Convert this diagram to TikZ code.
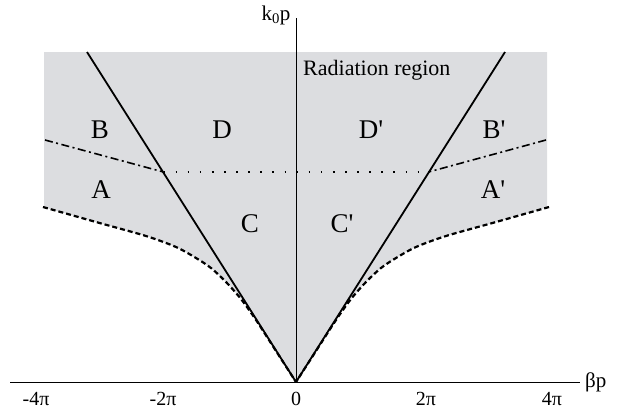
\documentclass[tikz,border=0pt]{standalone}
\usepackage{fontspec}
\newfontfamily\serif{Liberation Serif}
\definecolor{regiongray}{RGB}{220,221,224}
\tikzset{
  axisline/.style={line width=0.9pt, black},
  lightline/.style={line width=1.8pt, black},
  cutoff/.style={line width=2.2pt, black, dash pattern=on 5pt off 3pt},
  dotline/.style={line width=1.6pt, black, dash pattern=on 1.6pt off 10.5pt},
  dashdot/.style={line width=1.6pt, black, dash pattern=on 8pt off 3.5pt on 2pt off 3.5pt},
  biglab/.style={font=\serif\fontsize{27}{27}\selectfont, anchor=base, inner sep=0pt},
  ticklab/.style={font=\serif\fontsize{20}{20}\selectfont, anchor=base, inner sep=0pt},
  axlab/.style={font=\serif\fontsize{21}{21}\selectfont, inner sep=0pt},
}
\def\leftcurve{(43,207) (96,222) (146,236) (176,247) (196,258) (211,268) (226,282) (241,299) (256,320) (276,351) (296,382)}
\def\rightcurve{(549,207) (496,222) (446,236) (416,247) (396,258) (381,268) (366,282) (351,299) (336,320) (316,351) (296,382)}
\def\leftcurverev{(296,382) (276,351) (256,320) (241,299) (226,282) (211,268) (196,258) (176,247) (146,236) (96,222) (43,207)}
\begin{document}
\begin{tikzpicture}[x=1pt,y=-1pt]
\useasboundingbox (0,0) rectangle (620,413);
% key points
\coordinate (O) at (296,382);
\coordinate (LT) at (87,52);
\coordinate (RT) at (505,52);
\coordinate (LX) at (163.5,172);
\coordinate (RX) at (428.5,172);
\coordinate (LD) at (45,140);
\coordinate (RD) at (546,140);
\coordinate (XL) at (10,382);
\coordinate (XR) at (580,382);
\coordinate (YT) at (296,18);
% shaded region
\fill[regiongray] (44,52) -- (547,52) -- (547,207)
  -- plot[smooth,tension=0.5] coordinates {\rightcurve}
  -- plot[smooth,tension=0.5] coordinates {\leftcurverev}
  -- (44,207) -- cycle;
% axes
\draw[axisline] (XL) -- (XR);
\draw[axisline] (O) -- (YT);
% light lines
\draw[lightline] (O) -- (LT);
\draw[lightline] (O) -- (RT);
% cutoff curves
\draw[cutoff] plot[smooth,tension=0.5] coordinates {\leftcurve};
\draw[cutoff] plot[smooth,tension=0.5] coordinates {\rightcurve};
% boundaries
\draw[dotline] (LX) -- (RX);
\draw[dashdot] (LD) -- (LX);
\draw[dashdot] (RD) -- (RX);
% labels
\node[axlab] (ky) at (276,15) {k\textsubscript{0}p};
\node[axlab, anchor=west] (bx) at (585,382) {βp};
\node[ticklab] (t1) at (36,405) {-4π};
\node[ticklab] (t2) at (163,405) {-2π};
\node[ticklab] (t3) at (296,405) {0};
\node[ticklab] (t4) at (426,405) {2π};
\node[ticklab] (t5) at (552,405) {4π};
\node[font=\serif\fontsize{22}{22}\selectfont, anchor=base west, inner sep=0pt] (rad) at (303,75) {Radiation region};
\node[biglab] (B) at (100,138) {B};
\node[biglab] (D) at (222,138) {D};
\node[biglab] (Dp) at (371,138) {D'};
\node[biglab] (Bp) at (494,138) {B'};
\node[biglab] (A) at (101,198) {A};
\node[biglab] (Ap) at (493,198) {A'};
\node[biglab] (C) at (250,232) {C};
\node[biglab] (Cp) at (342,232) {C'};
\end{tikzpicture}
\end{document}
